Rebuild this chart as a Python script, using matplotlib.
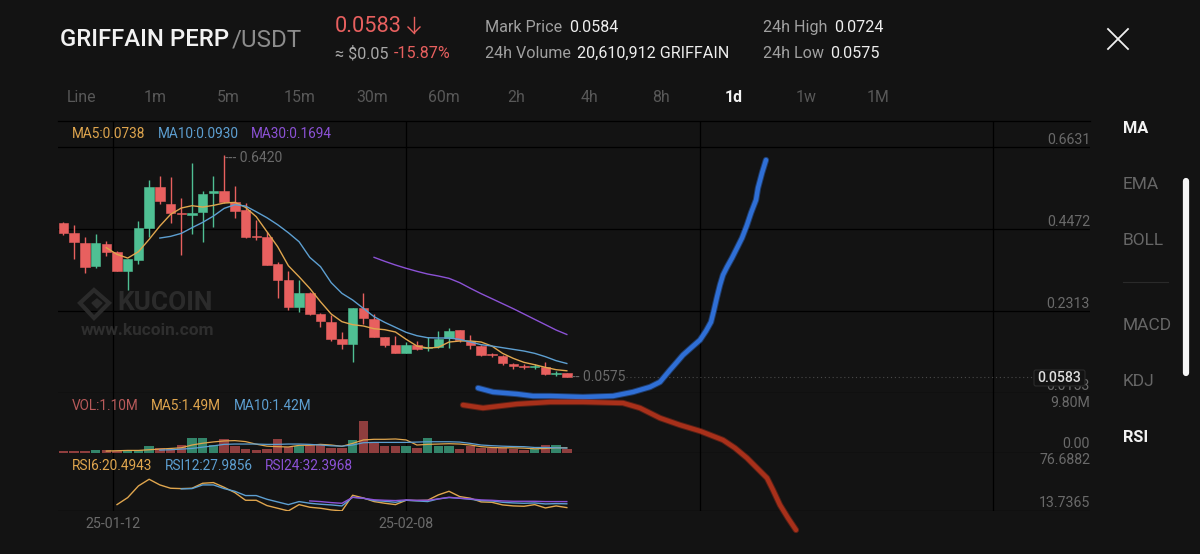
import numpy as np
import matplotlib
matplotlib.use("Agg")
import matplotlib.pyplot as plt
from matplotlib.patches import FancyBboxPatch, Polygon

plt.rcParams['font.family'] = ['Roboto', 'DejaVu Sans']

# candles (1 = green, 0 = red)
opens = [.4619, .4356, .4092, .3495, .4075, .3864, .3364, .3653, .4505, .5585, .5120, .4883,
         .4839, .4918, .5418, .5471, .5172, .4970, .4277, .4250, .3539, .3127, .2424, .2793,
         .2222, .2031, .1583, .1443, .2382, .2110, .1618, .1408, .1206, .1416, .1346, .1364,
         .1592, .1803, .1530, .1390, .1171, .1135, .0925, .0872, .0837, .0846, .0644, .0670]
closes = [.4356, .4119, .3478, .4092, .3873, .3372, .3671, .4488, .5567, .5199, .4891, .4856,
          .4883, .5401, .5462, .5190, .4953, .4268, .4250, .3522, .3127, .2424, .2793, .2222,
          .2047, .1566, .1434, .2391, .2119, .1627, .1408, .1214, .1408, .1311, .1372, .1583,
          .1794, .1548, .1408, .1153, .1144, .0933, .0872, .0846, .0863, .0644, .0688, .0583]
highs = [.4654, .4575, .4250, .4338, .4154, .3890, .3671, .4672, .5761, .5866, .5831, .5278,
         .6217, .5480, .5866, .6420, .5603, .5146, .4698, .4400, .3610, .3372, .3127, .2810,
         .2266, .2207, .1750, .2391, .2795, .2233, .1636, .1653, .1495, .1522, .1636, .1785,
         .1873, .1803, .1671, .1408, .1214, .1144, .0942, .0907, .0907, .0977, .0731, .0688]
lows = [.4321, .3680, .3311, .3451, .3768, .3364, .2863, .3557, .4268, .5128, .4619, .3794,
        .4329, .4136, .4514, .5146, .4760, .4242, .4171, .3513, .2661, .2336, .2292, .2205,
        .1880, .1522, .1302, .0960, .1969, .1618, .1355, .1197, .1197, .1276, .1249, .1346,
        .1329, .1495, .1320, .1127, .1091, .0898, .0775, .0784, .0784, .0626, .0600, .0575]

ma5 = [.3978, .3803, .3706, .3873, .4198, .4549, .4856, .5023, .5085, .5049, .5093, .5155,
       .5172, .5041, .4795, .4400, .4005, .3504, .3214, .2907, .2556, .2233, .2031, .1952,
       .1917, .1846, .1820, .1759, .1566, .1390, .1337, .1355, .1495, .1522, .1522, .1495,
       .1390, .1197, .1065, .0960, .0898, .0828, .0767, .0738]
ma10 = [.4233, .4277, .4356, .4505, .4646, .4812, .5014, .5111, .5076, .4926, .4768, .4584,
        .4373, .4136, .3724, .3480, .3058, .2777, .2602, .2382, .2163, .2013, .1882, .1750,
        .1662, .1609, .1601, .1601, .1566, .1495, .1425, .1390, .1346, .1302, .1258, .1197,
        .1109, .1004, .0930]
ma30 = [.3725, .3620, .3523, .3436, .3357, .3286, .3234, .3172, .3058, .2909, .2768, .2637,
        .2505, .2373, .2233, .2092, .1952, .1811, .1694]

volume = [.41, .41, .41, .82, .7, .6, .7, .82, 2.04, 1.3, 1.1, 2.3, 4.6, 4.5, 2.35, 4.1, 2.0,
          1.0, .9, 1.2, 4.1, 1.6, 2.1, 2.3, 2.3, 1.5, 1.4, 3.9, 9.8, 2.9, 2.1, 2.1, 2.1, 1.3,
          4.4, 2.2, 1.9, 1.0, 1.9, 1.3, 1.3, 1.3, 1.0, .8, 1.1, 2.3, 2.3, 1.1]
vol_ma5 = [.5, .6, .7, .7, .9, 1.1, 1.3, 1.5, 2.35, 2.9, 3.3, 3.6, 3.7, 3.4, 2.6, 2.0, 1.85,
           1.75, 2.25, 2.3, 2.55, 2.35, 1.95, 2.85, 3.9, 4.1, 4.1, 4.2, 3.9, 2.35, 2.55, 2.65,
           2.75, 2.65, 2.35, 1.85, 1.6, 1.5, 1.5, 1.4, 1.2, 1.3, 1.5, 1.49]
vol_ma10 = [.8, .9, 1.1, 1.3, 1.7, 2.1, 2.55, 2.65, 2.65, 2.65, 2.55, 2.55, 2.65, 2.65, 2.55,
            2.35, 2.1, 2.0, 2.35, 3.05, 3.15, 3.15, 3.15, 3.15, 3.25, 3.35, 3.35, 3.35, 3.25,
            2.85, 2.35, 2.15, 2.0, 1.9, 1.85, 1.6, 1.6, 1.5, 1.42]

rsi6 = [26.4, 40.3, 63.4, 76.6, 65.4, 58.8, 58.1, 58.8, 68.7, 70.0, 60.7, 50.2, 35.0, 35.0,
        24.5, 19.2, 13.9, 26.4, 21.2, 19.2, 15.9, 13.9, 44.9, 39.6, 32.4, 29.1, 26.4, 35.0,
        34.4, 35.0, 45.6, 52.8, 42.3, 39.0, 31.7, 31.0, 25.8, 23.8, 23.1, 26.4, 19.8, 23.8,
        20.49]
rsi12 = [57.5, 58.1, 65.4, 65.4, 58.1, 52.8, 44.3, 44.3, 37.0, 31.7, 26.4, 32.4, 29.1, 27.1,
         25.8, 23.8, 41.0, 39.0, 34.4, 33.0, 31.0, 35.0, 33.7, 32.4, 37.7, 40.3, 39.0, 37.0,
         34.4, 33.7, 31.0, 29.7, 29.0, 29.7, 27.7, 28.4, 27.98]
rsi24 = [33.7, 32.4, 30.4, 29.0, 40.9, 39.0, 36.0, 35.0, 34.4, 35.7, 35.0, 35.0, 37.7, 41.0,
         39.0, 37.7, 35.7, 35.0, 33.7, 33.0, 33.0, 33.0, 32.4, 32.4, 32.4]

price_ticks = [.6631, .4472, .2313, .0153]
price_labels = ['0.6631', '0.4472', '0.2313', '0.0153']
grid_pos = [4.6, 32.0, 59.4, 86.8]
date_labels = ['25-01-12', '25-02-08', '', '']
tabs = ['Line', '1m', '5m', '15m', '30m', '60m', '2h', '4h', '8h', '1d', '1w', '1M']
tab_x = [82, 155, 228, 300, 372, 444, 516, 589, 661, 734, 806, 878]

# hand drawn strokes on top of the screenshot, in pixels
blue_x = [478, 493, 517, 533, 550, 583, 613, 633, 650, 660, 670, 677, 683, 692, 700, 706, 711,
          714, 717, 720, 723, 727, 732, 737, 742, 747, 751, 756, 758, 762, 766]
blue_y = [388, 392, 394, 396, 396, 397, 396, 392, 387, 382, 370, 362, 355, 347, 340, 331, 322,
          310, 297, 285, 275, 267, 258, 248, 238, 225, 213, 200, 188, 173, 160]
red_x = [463, 483, 517, 550, 583, 623, 640, 660, 680, 700, 723, 735, 747, 757, 767, 773, 780, 788, 796]
red_y = [405, 408, 404, 402, 402, 403, 408, 418, 425, 431, 440, 448, 458, 468, 478, 490, 505, 518, 530]

BG = '#131313'
RED = '#e8605f'
GREEN = '#4fbf93'
C5 = '#e0a64e'
C10 = '#5d9fd1'
C30 = '#8c52d6'
W, H = 1200, 554


def pane(fig, top, bottom, ylim):
    # axes placed by pixel box
    ax = fig.add_axes([58 / W, 1 - bottom / H, (1090 - 58) / W, (bottom - top) / H])
    ax.set_facecolor('none')
    ax.set_xlim(-0.51, 95.85)
    ax.set_ylim(*ylim)
    ax.set_xticks(grid_pos)
    ax.tick_params(length=0, labelleft=False, labelbottom=False)
    ax.grid(True, color='black', linewidth=0.9)
    ax.set_axisbelow(True)
    for s in ax.spines.values():
        s.set_visible(False)
    return ax


def tail(ax, values, *args, **kw):
    # indicator lines end on the last candle
    ax.plot(np.arange(48 - len(values), 48), values, *args, **kw)


def right_label(ax, text, y, dy, va):
    ax.annotate(text, (1, y), xycoords=('axes fraction', 'data'), xytext=(0, dy),
                textcoords='offset points', ha='right', va=va, color='#6a6a6a', fontsize=10.2)


fig = plt.figure(figsize=(12, 5.54), dpi=100, facecolor=BG)

# price pane
ax = pane(fig, 121, 393, (.0153, .7315))
ax.set_yticks(price_ticks)
x = np.arange(len(opens))
o, c = np.array(opens), np.array(closes)
col = [GREEN if b >= a else RED for a, b in zip(opens, closes)]
ax.vlines(x, lows, highs, colors=col, linewidth=1.0)
ax.bar(x, np.abs(c - o), bottom=np.minimum(o, c), width=0.88, color=col, edgecolor=col, linewidth=0.4)
tail(ax, ma5, color=C5, linewidth=1.0)
tail(ax, ma10, color=C10, linewidth=1.0)
tail(ax, ma30, color=C30, linewidth=1.0)
# the last one sits half hidden under the price tag, as in the app
for t, v in zip(price_labels, price_ticks):
    right_label(ax, t, v, 0, 'bottom')
ax.axhline(.0583, color='#4a4a4a', linewidth=0.8, linestyle=(0, (1, 2.5)), xmin=0.55, xmax=0.947)
ax.annotate('--- 0.6420', (15, .6420), xytext=(1, -2), textcoords='offset points', va='center',
            color='#6a6a6a', fontsize=10.0)
ax.annotate('-- 0.0575', (47.4, .0575), xytext=(1, 0), textcoords='offset points', va='center',
            color='#6a6a6a', fontsize=10.0)

# volume pane
vax = pane(fig, 393, 452.7, (0, 18.27))
vax.set_yticks([0])
vol_col = ['#33856a' if b >= a else '#8f3e3e' for a, b in zip(opens, closes)]
vax.bar(x, volume, width=0.88, color=vol_col)
tail(vax, vol_ma5, color=C5, linewidth=0.9)
tail(vax, vol_ma10, color=C10, linewidth=0.9)
right_label(vax, '9.80M', 18.27, -2, 'top')
right_label(vax, '0.00', 0, 1.5, 'bottom')

# rsi pane
rax = pane(fig, 452.7, 511, (13.74, 129.2))
rax.set_yticks([13.74])
rax.set_xticklabels(date_labels)
rax.tick_params(labelbottom=True, labelcolor='#6a6a6a', labelsize=10.2, pad=4.5)
tail(rax, rsi6, color=C5, linewidth=1.0)
tail(rax, rsi12, color=C10, linewidth=1.0)
tail(rax, rsi24, color=C30, linewidth=1.0)
right_label(rax, '76.6882', 129.2, -0.5, 'top')
right_label(rax, '13.7365', 13.74, 1, 'bottom')

# everything else sits on a pixel overlay
ui = fig.add_axes([0, 0, 1, 1], zorder=5)
ui.set_xlim(0, W)
ui.set_ylim(H, 0)
ui.axis('off')


def label(px, py, s, color, size, **kw):
    # va center sits a little high for digits and caps
    return ui.text(px, py + 1.5, s, color=color, fontsize=size, va='center', **kw)


ui.plot([58, 1090], [121, 121], color='black', linewidth=0.9)

label(60, 38, 'GRIFFAIN PERP', '#f2f2f2', 17.2, fontweight='medium')
label(232, 38, '/USDT', '#8c8c8c', 17.4)
label(335, 25, '0.0583', RED, 15.7)
ui.plot([414, 414], [17, 33], color=RED, linewidth=1.0)
ui.plot([408, 414, 420], [27, 33, 27], color=RED, linewidth=1.0)
label(335, 52, '≈ $0.05', '#a8a8a8', 11.6)
label(394, 52, '-15.87%', RED, 11.6)
label(485, 26, 'Mark Price', '#a0a0a0', 11.6)
label(569, 26, '0.0584', '#eeeeee', 11.6)
label(485, 52, '24h Volume', '#a0a0a0', 11.6)
label(577, 52, '20,610,912 GRIFFAIN', '#eeeeee', 11.6)
label(763, 26, '24h High', '#a0a0a0', 11.6)
label(834, 26, '0.0724', '#eeeeee', 11.6)
label(763, 52, '24h Low', '#a0a0a0', 11.6)
label(830, 52, '0.0575', '#eeeeee', 11.6)

ui.plot([1108, 1128], [29, 49], color='#f0f0f0', linewidth=1.3)
ui.plot([1108, 1128], [49, 29], color='#f0f0f0', linewidth=1.3)

for t, px in zip(tabs, tab_x):
    if t == '1d':
        label(px, 96.5, t, '#f2f2f2', 11.4, ha='center', fontweight='bold')
    else:
        label(px, 96.5, t, '#585858', 11.4, ha='center')

label(72, 132, 'MA5:0.0738', C5, 9.8)
label(158, 132, 'MA10:0.0930', C10, 9.8)
label(251, 132, 'MA30:0.1694', C30, 9.8)
label(72, 405, 'VOL:1.10M', '#b85a5a', 9.8)
label(151, 405, 'MA5:1.49M', C5, 9.8)
label(234, 405, 'MA10:1.42M', C10, 9.8)
label(72, 464, 'RSI6:20.4943', C5, 9.8)
label(165, 464, 'RSI12:27.9856', C10, 9.8)
label(265, 464, 'RSI24:32.3968', C30, 9.8)

# watermark
ui.add_patch(Polygon([(94, 290), (109, 303), (94, 318), (80, 303)], closed=True, fill=False,
                     edgecolor='#2b2b2b', linewidth=3))
ui.add_patch(Polygon([(97, 299), (102, 303), (97, 308), (92, 303)], closed=True, color='#2b2b2b'))
label(117, 302, 'KUCOIN', '#2b2b2b', 18.9, fontweight='bold')
label(81, 329, 'www.kucoin.com', '#2e2e2e', 12.4, fontweight='bold')

# price tag
ui.add_patch(FancyBboxPatch((1034, 370), 51, 16, boxstyle='round,pad=0,rounding_size=2',
                            facecolor=BG, edgecolor='#2c2c2c', linewidth=0.8, zorder=6))
label(1059, 377, '0.0583', '#dddddd', 10.2, ha='center', zorder=7, fontweight='medium')

# side menu
for t, py, col_, w, sz in [('MA', 127, '#f2f2f2', 'bold', 11.8), ('EMA', 183, '#666666', 'normal', 12.5),
                           ('BOLL', 239, '#666666', 'normal', 12.5), ('MACD', 324, '#666666', 'normal', 12.5),
                           ('KDJ', 380, '#666666', 'normal', 12.5), ('RSI', 436, '#f2f2f2', 'bold', 11.8)]:
    label(1123, py, t, col_, sz, fontweight=w)
ui.plot([1123, 1168], [282, 282], color='#2a2a2a', linewidth=0.8)
ui.plot([1186, 1186], [181, 373], color='#f5f5f5', linewidth=4.5, solid_capstyle='round')

# marker strokes, soft edge underneath
for xs, ys, stroke in [(blue_x, blue_y, '#2f6fd6'), (red_x, red_y, '#a8301a')]:
    ui.plot(xs, ys, color=stroke, alpha=0.45, linewidth=4.6, solid_capstyle='round', solid_joinstyle='round')
    ui.plot(xs, ys, color=stroke, linewidth=3.2, solid_capstyle='round', solid_joinstyle='round')

fig.savefig('out.png', dpi=100, facecolor=BG)
